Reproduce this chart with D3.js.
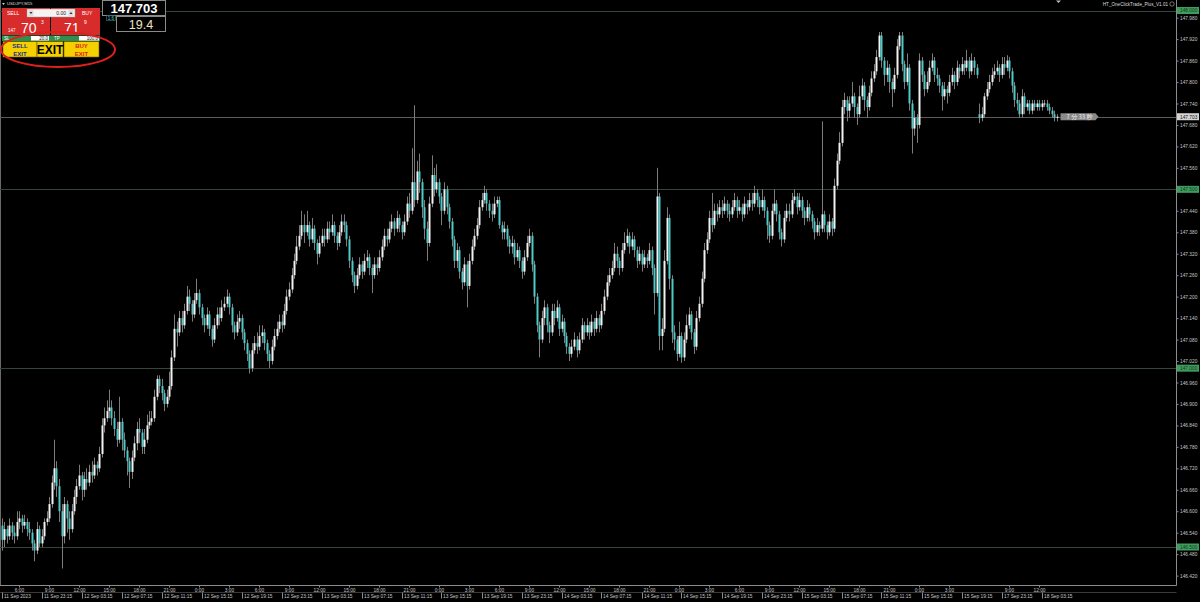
<!DOCTYPE html>
<html>
<head>
<meta charset="utf-8">
<script src="https://cdn.jsdelivr.net/npm/d3@7"></script>
<style>
  body { margin: 0; background: #000; }
  svg { display: block; }
  text { font-family: "Liberation Sans", Arial, sans-serif; }
</style>
</head>
<body>
<svg id="chart" width="1200" height="602"></svg>
<script>
// USDJPY M15, one value per bar (open = previous close unless listed in gapOpens)
var closes = [
  146.52,146.55,146.53,146.56,146.54,146.53,146.57,146.58,146.56,146.57,
  146.55,146.54,146.51,146.49,146.55,146.51,146.53,146.57,146.58,146.62,
  146.68,146.72,146.67,146.60,146.53,146.62,146.58,146.55,146.60,146.64,
  146.67,146.70,146.66,146.69,146.68,146.71,146.70,146.73,146.72,146.76,
  146.84,146.86,146.88,146.89,146.86,146.83,146.80,146.85,146.80,146.77,
  146.74,146.71,146.75,146.79,146.83,146.82,146.78,146.80,146.84,146.85,
  146.86,146.92,146.97,146.95,146.93,146.90,146.92,146.95,147.03,147.11,
  147.10,147.14,147.12,147.16,147.20,147.18,147.15,147.19,147.21,147.17,
  147.14,147.12,147.15,147.11,147.08,147.12,147.15,147.14,147.17,147.18,
  147.20,147.17,147.12,147.10,147.13,147.14,147.10,147.07,147.04,147.00,
  147.05,147.07,147.06,147.09,147.10,147.07,147.04,147.02,147.06,147.09,
  147.11,147.13,147.12,147.16,147.20,147.22,147.26,147.30,147.34,147.37,
  147.40,147.38,147.40,147.36,147.39,147.35,147.32,147.35,147.37,147.36,
  147.39,147.38,147.40,147.37,147.35,147.38,147.41,147.40,147.36,147.30,
  147.26,147.23,147.26,147.29,147.27,147.30,147.31,147.28,147.26,147.29,
  147.28,147.31,147.34,147.37,147.36,147.39,147.41,147.39,147.42,147.40,
  147.38,147.41,147.46,147.44,147.52,147.47,147.55,147.52,147.45,147.39,
  147.35,147.46,147.54,147.50,147.52,147.48,147.44,147.50,147.45,147.41,
  147.36,147.30,147.33,147.27,147.24,147.29,147.23,147.30,147.34,147.37,
  147.40,147.45,147.47,147.49,147.46,147.44,147.43,147.46,147.47,147.40,
  147.38,147.39,147.36,147.34,147.35,147.31,147.33,147.30,147.27,147.31,
  147.35,147.37,147.29,147.20,147.12,147.08,147.14,147.17,147.12,147.10,
  147.16,147.14,147.17,147.11,147.13,147.09,147.06,147.04,147.06,147.08,
  147.05,147.08,147.12,147.10,147.12,147.10,147.13,147.11,147.14,147.12,
  147.16,147.20,147.24,147.26,147.28,147.32,147.30,147.28,147.33,147.35,
  147.37,147.34,147.36,147.33,147.30,147.32,147.29,147.31,147.30,147.33,
  147.28,147.21,147.48,147.09,147.11,147.30,147.42,147.25,147.10,147.08,
  147.04,147.09,147.03,147.08,147.12,147.15,147.10,147.06,147.14,147.18,
  147.25,147.33,147.36,147.42,147.40,147.44,147.43,147.45,147.44,147.46,
  147.44,147.43,147.45,147.47,147.44,147.45,147.43,147.46,147.45,147.47,
  147.46,147.49,147.47,147.45,147.47,147.44,147.40,147.37,147.44,147.46,
  147.43,147.38,147.36,147.42,147.44,147.43,147.47,147.48,147.45,147.47,
  147.44,147.42,147.45,147.43,147.41,147.38,147.40,147.39,147.43,147.40,
  147.38,147.41,147.39,147.51,147.58,147.63,147.73,147.75,147.72,147.74,
  147.76,147.73,147.71,147.76,147.79,147.75,147.73,147.77,147.81,147.83,
  147.87,147.93,147.86,147.82,147.84,147.80,147.78,147.82,147.90,147.93,
  147.85,147.80,147.84,147.74,147.67,147.70,147.68,147.86,147.82,147.78,
  147.80,147.84,147.86,147.82,147.81,147.79,147.76,147.78,147.77,147.80,
  147.82,147.80,147.84,147.83,147.85,147.84,147.86,147.83,147.86,147.84,
  147.82,147.70,147.71,147.76,147.78,147.80,147.82,147.83,147.84,147.82,
  147.85,147.84,147.86,147.83,147.79,147.75,147.74,147.71,147.76,147.73,
  147.74,147.72,147.74,147.73,147.74,147.73,147.74,147.74,147.73,147.72,
  147.71,147.70,147.703
];
var highs = [
  146.58,146.57,146.56,146.58,146.57,146.56,146.60,146.60,146.59,146.59,
  146.58,146.57,146.55,146.52,146.57,146.56,146.55,146.58,146.60,146.64,
  146.70,146.80,146.74,146.69,146.62,146.64,146.63,146.60,146.62,146.66,
  146.69,146.73,146.71,146.71,146.72,146.73,146.74,146.75,146.74,146.78,
  146.86,146.89,146.91,146.94,146.91,146.88,146.85,146.92,146.86,146.82,
  146.78,146.75,146.77,146.81,146.85,146.86,146.83,146.83,146.87,146.88,
  146.88,146.94,146.98,146.98,146.97,146.94,146.94,146.99,147.05,147.15,
  147.13,147.16,147.16,147.18,147.23,147.22,147.19,147.21,147.25,147.22,
  147.18,147.15,147.17,147.16,147.12,147.14,147.17,147.17,147.19,147.20,
  147.22,147.21,147.18,147.13,147.15,147.16,147.15,147.11,147.08,147.05,
  147.07,147.09,147.10,147.12,147.12,147.11,147.08,147.05,147.08,147.11,
  147.13,147.15,147.15,147.18,147.22,147.24,147.28,147.32,147.37,147.40,
  147.44,147.43,147.44,147.41,147.42,147.40,147.36,147.37,147.39,147.39,
  147.41,147.41,147.43,147.41,147.38,147.40,147.43,147.43,147.41,147.37,
  147.31,147.27,147.28,147.31,147.30,147.32,147.33,147.32,147.29,147.31,
  147.31,147.33,147.36,147.39,147.39,147.41,147.43,147.42,147.44,147.43,
  147.41,147.43,147.48,147.49,147.615,147.735,147.58,147.60,147.53,147.47,
  147.41,147.48,147.595,147.56,147.57,147.53,147.49,147.52,147.51,147.46,
  147.42,147.37,147.35,147.34,147.28,147.31,147.30,147.32,147.36,147.39,
  147.42,147.47,147.49,147.51,147.50,147.47,147.46,147.48,147.48,147.48,
  147.41,147.41,147.40,147.37,147.37,147.36,147.35,147.34,147.31,147.33,
  147.37,147.39,147.38,147.30,147.21,147.13,147.16,147.19,147.18,147.13,
  147.18,147.18,147.19,147.18,147.15,147.14,147.10,147.07,147.08,147.10,
  147.09,147.10,147.14,147.13,147.14,147.13,147.15,147.14,147.16,147.15,
  147.18,147.22,147.26,147.28,147.30,147.35,147.34,147.31,147.35,147.38,
  147.39,147.38,147.38,147.37,147.34,147.34,147.33,147.33,147.32,147.35,
  147.34,147.29,147.56,147.49,147.14,147.33,147.45,147.43,147.26,147.12,
  147.09,147.13,147.10,147.10,147.15,147.17,147.16,147.11,147.16,147.20,
  147.27,147.35,147.38,147.44,147.49,147.46,147.46,147.47,147.47,147.48,
  147.47,147.46,147.47,147.49,147.48,147.47,147.46,147.48,147.47,147.49,
  147.49,147.51,147.50,147.48,147.50,147.48,147.45,147.41,147.46,147.50,
  147.47,147.44,147.39,147.44,147.46,147.46,147.49,147.50,147.49,147.49,
  147.48,147.45,147.47,147.46,147.44,147.42,147.42,147.41,147.69,147.44,
  147.41,147.43,147.42,147.53,147.60,147.66,147.75,147.77,147.76,147.76,
  147.80,147.77,147.74,147.79,147.81,147.80,147.76,147.79,147.83,147.85,
  147.89,147.94,147.94,147.87,147.86,147.85,147.81,147.84,147.92,147.94,
  147.94,147.86,147.88,147.85,147.75,147.72,147.71,147.88,147.87,147.83,
  147.83,147.86,147.88,147.87,147.84,147.82,147.80,147.80,147.79,147.82,
  147.84,147.83,147.86,147.85,147.87,147.86,147.89,147.87,147.88,147.87,
  147.85,147.74,147.73,147.77,147.80,147.82,147.84,147.85,147.86,147.85,
  147.87,147.87,147.875,147.87,147.84,147.80,147.77,147.75,147.78,147.77,
  147.75,147.75,147.75,147.75,147.75,147.75,147.75,147.75,147.75,147.74,
  147.73,147.72,147.71
];
var lows = [
  146.49,146.50,146.51,146.52,146.52,146.51,146.52,146.55,146.54,146.55,
  146.53,146.52,146.49,146.46,146.48,146.50,146.50,146.52,146.56,146.57,
  146.61,146.66,146.64,146.57,146.44,146.51,146.54,146.52,146.54,146.59,
  146.62,146.66,146.63,146.64,146.66,146.67,146.68,146.69,146.70,146.71,
  146.75,146.82,146.85,146.86,146.84,146.81,146.78,146.79,146.77,146.75,
  146.70,146.665,146.69,146.74,146.77,146.79,146.76,146.76,146.79,146.83,
  146.84,146.85,146.91,146.93,146.91,146.88,146.89,146.91,146.94,147.02,
  147.06,147.09,147.10,147.11,147.15,147.16,147.13,147.14,147.18,147.15,
  147.12,147.10,147.11,147.09,147.06,147.07,147.11,147.12,147.13,147.16,
  147.17,147.15,147.10,147.08,147.09,147.11,147.08,147.05,147.02,146.985,
  146.99,147.04,147.04,147.05,147.07,147.05,147.02,147.00,147.01,147.05,
  147.08,147.10,147.10,147.11,147.15,147.19,147.21,147.25,147.29,147.33,
  147.36,147.35,147.37,147.34,147.35,147.33,147.29,147.31,147.34,147.34,
  147.35,147.36,147.37,147.35,147.33,147.34,147.37,147.38,147.34,147.28,
  147.24,147.21,147.22,147.25,147.25,147.26,147.28,147.26,147.21,147.25,
  147.26,147.27,147.30,147.33,147.34,147.35,147.38,147.37,147.38,147.38,
  147.36,147.37,147.40,147.42,147.43,147.45,147.46,147.49,147.42,147.36,
  147.30,147.34,147.45,147.48,147.49,147.46,147.40,147.43,147.43,147.39,
  147.34,147.28,147.28,147.25,147.22,147.23,147.17,147.22,147.29,147.33,
  147.36,147.39,147.44,147.46,147.44,147.42,147.41,147.42,147.45,147.39,
  147.36,147.36,147.34,147.32,147.32,147.29,147.30,147.28,147.25,147.26,
  147.30,147.34,147.27,147.18,147.10,147.03,147.07,147.12,147.10,147.07,
  147.09,147.12,147.13,147.09,147.10,147.07,147.04,147.02,147.03,147.05,
  147.03,147.04,147.07,147.08,147.09,147.08,147.09,147.09,147.10,147.10,
  147.11,147.15,147.19,147.23,147.25,147.27,147.28,147.26,147.27,147.32,
  147.34,147.32,147.33,147.31,147.28,147.29,147.27,147.28,147.28,147.29,
  147.26,147.15,147.20,147.05,147.05,147.10,147.29,147.22,147.07,147.05,
  147.02,147.03,147.015,147.02,147.07,147.11,147.08,147.04,147.05,147.13,
  147.17,147.24,147.32,147.35,147.38,147.39,147.41,147.42,147.42,147.43,
  147.42,147.41,147.42,147.44,147.42,147.43,147.41,147.42,147.43,147.44,
  147.44,147.45,147.45,147.43,147.44,147.42,147.36,147.35,147.36,147.43,
  147.41,147.36,147.34,147.35,147.41,147.41,147.42,147.46,147.43,147.44,
  147.42,147.40,147.41,147.41,147.39,147.36,147.37,147.37,147.38,147.38,
  147.36,147.37,147.37,147.38,147.50,147.57,147.62,147.71,147.69,147.70,
  147.73,147.70,147.68,147.70,147.75,147.72,147.70,147.72,147.76,147.80,
  147.82,147.86,147.84,147.79,147.80,147.77,147.73,147.77,147.81,147.89,
  147.83,147.78,147.79,147.72,147.60,147.65,147.63,147.67,147.80,147.76,
  147.77,147.79,147.83,147.80,147.79,147.77,147.72,147.75,147.74,147.76,
  147.79,147.78,147.79,147.81,147.82,147.82,147.83,147.81,147.82,147.82,
  147.81,147.685,147.69,147.70,147.75,147.77,147.79,147.81,147.82,147.80,
  147.81,147.82,147.83,147.81,147.77,147.73,147.72,147.70,147.70,147.71,
  147.72,147.71,147.71,147.72,147.72,147.72,147.72,147.73,147.72,147.71,
  147.70,147.69,147.69
];
var gapOpens = { 0: 146.56, 391: 147.71 };

var priceTicks = [147.98,147.92,147.86,147.80,147.74,147.68,147.62,147.56,147.44,147.38,
  147.32,147.26,147.20,147.14,147.08,147.02,146.96,146.90,146.84,146.78,146.72,146.66,
  146.60,146.54,146.48,146.42];
var levelLines = [148.0, 147.5, 147.0, 146.5];
var lastPrice = 147.703;

var timeTicks = [7,19,31,43,55,67,79,91,103,115,127,139,151,163,175,187,199,211,223,235,
  247,259,271,283,295,307,319,331,343,355,367,379,403,415];
var timeLabels = ["6:00","9:00","12:00","15:00","18:00","21:00","0:00","3:00","6:00","9:00",
  "12:00","15:00","18:00","21:00","0:00","3:00","6:00","9:00","12:00","15:00","18:00","21:00",
  "0:00","3:00","6:00","9:00","12:00","15:00","18:00","21:00","0:00","3:00","9:00","12:00"];
var dateTicks = [0,16,32,48,64,80,96,112,128,144,160,176,192,208,224,240,256,272,288,304,
  320,336,352,368,384,400,416];
var dateLabels = ["11 Sep 2023","11 Sep 23:15","12 Sep 03:15","12 Sep 07:15","12 Sep 11:15",
  "12 Sep 15:15","12 Sep 19:15","12 Sep 23:15","13 Sep 03:15","13 Sep 07:15","13 Sep 11:15",
  "13 Sep 15:15","13 Sep 19:15","13 Sep 23:15","14 Sep 03:15","14 Sep 07:15","14 Sep 11:15",
  "14 Sep 15:15","14 Sep 19:15","14 Sep 23:15","15 Sep 03:15","15 Sep 07:15","15 Sep 11:15",
  "15 Sep 15:15","15 Sep 19:15","17 Sep 23:15","18 Sep 03:15"];

var W = 1200, H = 602, axisX = 1176.5, axisY = 585.5;
var bull = "#f2f2f2", bear = "#4ecaca", wick = "#7c7c7c";

var svg = d3.select("#chart");
svg.append("rect").attr("width", W).attr("height", H).attr("fill", "#000");

var x = d3.scaleLinear().domain([0, 470]).range([1.5, 1176.5]);
var y = d3.scaleLinear().domain([146.5, 148.0]).range([547, 10.5]);

var bars = closes.map(function(c, i) {
  var o = gapOpens[i] !== undefined ? gapOpens[i] : closes[i - 1];
  return { i: i, o: o, h: highs[i], l: lows[i], c: c };
});

// frame
svg.append("line").attr("x1", 0.5).attr("x2", 0.5).attr("y1", 0).attr("y2", axisY).attr("stroke", "#6a6a6a");

// round level lines + current price line
svg.selectAll("line.level").data(levelLines).enter().append("line").attr("class", "level")
  .attr("x1", 0).attr("x2", axisX).attr("y1", function(d) { return Math.round(y(d)) + 0.5; })
  .attr("y2", function(d) { return Math.round(y(d)) + 0.5; })
  .attr("stroke", "#34463c").attr("stroke-width", 1);
svg.append("line").attr("x1", 0).attr("x2", axisX)
  .attr("y1", Math.round(y(lastPrice)) + 0.5).attr("y2", Math.round(y(lastPrice)) + 0.5)
  .attr("stroke", "#5c5c5c");

// candles
var cg = svg.append("g");
cg.selectAll("line.wick").data(bars).enter().append("line").attr("class", "wick")
  .attr("x1", function(d) { return Math.round(x(d.i)) + 0.5; })
  .attr("x2", function(d) { return Math.round(x(d.i)) + 0.5; })
  .attr("y1", function(d) { return y(d.h); }).attr("y2", function(d) { return y(d.l); })
  .attr("stroke", wick).attr("stroke-width", 1);
cg.selectAll("rect.body").data(bars).enter().append("rect").attr("class", "body")
  .attr("x", function(d) { return Math.round(x(d.i)) - 0.5; })
  .attr("width", 2)
  .attr("y", function(d) { return y(Math.max(d.o, d.c)); })
  .attr("height", function(d) { return Math.max(1, Math.abs(y(d.o) - y(d.c))); })
  .attr("fill", function(d) { return d.c >= d.o ? bull : bear; });

// right price axis
var ya = svg.append("g").attr("transform", "translate(" + axisX + ",0)")
  .call(d3.axisRight(y).tickValues(priceTicks).tickSize(2).tickPadding(1.5).tickFormat(d3.format(".3f")));
ya.select(".domain").attr("stroke", "#8c8c8c").attr("d", "M0,0V" + axisY);
ya.selectAll(".tick line").attr("stroke", "#8c8c8c");
ya.selectAll(".tick text").attr("fill", "#c8c8c8").style("font-size", "4.8px");

var tags = svg.selectAll("g.tag").data(levelLines).enter().append("g").attr("class", "tag")
  .attr("transform", function(d) { return "translate(" + (axisX + 0.5) + "," + y(d) + ")"; });
tags.append("rect").attr("x", 0).attr("y", -3.5).attr("width", 22).attr("height", 7).attr("fill", "#3d9d5d");
tags.append("text").attr("x", 3).attr("y", 1.8).attr("fill", "#17361f").style("font-size", "4.8px")
  .text(function(d) { return d3.format(".3f")(d); });
var lp = svg.append("g").attr("transform", "translate(" + (axisX + 0.5) + "," + y(lastPrice) + ")");
lp.append("rect").attr("x", 0).attr("y", -3.5).attr("width", 22).attr("height", 7).attr("fill", "#d4d4d4");
lp.append("text").attr("x", 3).attr("y", 1.8).attr("fill", "#111").style("font-size", "4.8px").text(d3.format(".3f")(lastPrice));

// bottom time axis (two rows)
svg.append("line").attr("x1", 0).attr("x2", axisX).attr("y1", axisY).attr("y2", axisY).attr("stroke", "#8c8c8c");
var ta = svg.append("g").attr("transform", "translate(0," + axisY + ")")
  .call(d3.axisBottom(x).tickValues(timeTicks).tickSize(2).tickPadding(1)
    .tickFormat(function(d, i) { return timeLabels[i]; }));
ta.select(".domain").remove();
ta.selectAll(".tick line").attr("stroke", "#8c8c8c");
ta.selectAll(".tick text").attr("fill", "#c8c8c8").style("font-size", "4.8px");

svg.append("line").attr("x1", 0).attr("x2", axisX).attr("y1", 592.5).attr("y2", 592.5).attr("stroke", "#3a3a3a");
var da = svg.append("g").attr("transform", "translate(0,592.5)");
var dt = da.selectAll("g").data(dateTicks).enter().append("g")
  .attr("transform", function(d) { return "translate(" + (Math.round(x(d)) + 0.5) + ",0)"; });
dt.append("line").attr("y1", 0).attr("y2", 6).attr("stroke", "#8c8c8c");
dt.append("text").attr("x", 1.5).attr("y", 5.8).attr("fill", "#c8c8c8").style("font-size", "4.8px")
  .text(function(d, i) { return dateLabels[i]; });

// countdown tag next to the last bar
var cd = svg.append("g").attr("transform", "translate(" + (x(closes.length - 1) + 4) + "," + y(lastPrice) + ")");
cd.append("path").attr("d", "M0,-3.5H35L38,0L35,3.5H0Z").attr("fill", "#8a8a8a");
cd.append("text").attr("x", 19).attr("y", 2).attr("text-anchor", "middle").attr("fill", "#eee")
  .style("font-family", "'Noto Sans CJK JP', sans-serif").style("font-size", "6px").text("7 分 33 秒");

// top texts
svg.append("path").attr("d", "M2,3L5,3L3.5,5Z").attr("fill", "#ccc");
svg.append("text").attr("x", 7).attr("y", 5).attr("fill", "#ddd").style("font-size", "4.2px").text("USDJPY,M15");
svg.append("text").attr("x", 1168).attr("y", 5.5).attr("text-anchor", "end").attr("fill", "#ddd")
  .style("font-size", "4.6px").text("HT_OneClickTrade_Plus_V1.01");
svg.append("circle").attr("cx", 1172).attr("cy", 4).attr("r", 2.2).attr("fill", "none").attr("stroke", "#bbb").attr("stroke-width", 0.6);
svg.append("path").attr("d", "M1056,0.5L1061,0.5L1058.5,3Z").attr("fill", "#bbb");

// one-click trade panel
var p = svg.append("g");
p.append("rect").attr("x", 2).attr("y", 8).attr("width", 48).attr("height", 27).attr("fill", "#d82b2b");
p.append("rect").attr("x", 51).attr("y", 8).attr("width", 49).attr("height", 27).attr("fill", "#d82b2b");
p.append("text").attr("x", 7).attr("y", 14.5).attr("fill", "#fff").style("font-size", "5px").text("SELL");
p.append("text").attr("x", 82).attr("y", 14.5).attr("fill", "#fff").style("font-size", "5px").text("BUY");
p.append("rect").attr("x", 27).attr("y", 9).attr("width", 48).attr("height", 8).attr("fill", "#f4f4f4").attr("stroke", "#999").attr("stroke-width", 0.5);
p.append("rect").attr("x", 28.5).attr("y", 10).attr("width", 5).attr("height", 6).attr("fill", "#ddd");
p.append("path").attr("d", "M29.5,12L32.5,12L31,14Z").attr("fill", "#333");
p.append("rect").attr("x", 68.5).attr("y", 10).attr("width", 5).attr("height", 6).attr("fill", "#ddd");
p.append("path").attr("d", "M69.5,14L72.5,14L71,12Z").attr("fill", "#333");
p.append("text").attr("x", 66).attr("y", 15).attr("text-anchor", "end").attr("fill", "#222").style("font-size", "5px").text("0.00");
p.append("text").attr("x", 8).attr("y", 32).attr("fill", "#fff").style("font-size", "4.5px").text("147");
p.append("text").attr("x", 21).attr("y", 33).attr("fill", "#fff").style("font-size", "14px").text("70");
p.append("text").attr("x", 41).attr("y", 24).attr("fill", "#fff").style("font-size", "5px").text("3");
p.append("text").attr("x", 64).attr("y", 33).attr("fill", "#fff").style("font-size", "14px").text("71");
p.append("text").attr("x", 84).attr("y", 24).attr("fill", "#fff").style("font-size", "5px").text("9");
p.append("rect").attr("x", 2).attr("y", 35.5).attr("width", 98).attr("height", 5.5).attr("fill", "#2f8f4f");
p.append("text").attr("x", 4).attr("y", 40).attr("fill", "#fff").style("font-size", "4.5px").text("SL");
p.append("rect").attr("x", 31).attr("y", 36).attr("width", 18).attr("height", 4.5).attr("fill", "#fff");
p.append("text").attr("x", 48).attr("y", 40).attr("text-anchor", "end").attr("fill", "#111").style("font-size", "4.5px").text("20.0");
p.append("text").attr("x", 54).attr("y", 40).attr("fill", "#fff").style("font-size", "4.5px").text("TP");
p.append("rect").attr("x", 79).attr("y", 36).attr("width", 20).attr("height", 4.5).attr("fill", "#fff");
p.append("text").attr("x", 98).attr("y", 40).attr("text-anchor", "end").attr("fill", "#111").style("font-size", "4.5px").text("100.0");
var btns = [[3, 34, "#1c2a8c"], [37, 26, "#000"], [64, 35, "#d82020"]];
btns.forEach(function(b) {
  p.append("rect").attr("x", b[0]).attr("y", 41.5).attr("width", b[1]).attr("height", 15.5)
    .attr("fill", "#f5d000").attr("stroke", "#6b5a00").attr("stroke-width", 0.6);
});
p.append("text").attr("x", 20).attr("y", 48).attr("text-anchor", "middle").attr("fill", "#1c2a8c").style("font-size", "6px").style("font-weight", "bold").text("SELL");
p.append("text").attr("x", 20).attr("y", 55.5).attr("text-anchor", "middle").attr("fill", "#1c2a8c").style("font-size", "6px").style("font-weight", "bold").text("EXIT");
p.append("text").attr("x", 50).attr("y", 54).attr("text-anchor", "middle").attr("fill", "#000").style("font-size", "12px").style("font-weight", "bold").text("EXIT");
p.append("text").attr("x", 81.5).attr("y", 48).attr("text-anchor", "middle").attr("fill", "#d82020").style("font-size", "6px").style("font-weight", "bold").text("BUY");
p.append("text").attr("x", 81.5).attr("y", 55.5).attr("text-anchor", "middle").attr("fill", "#d82020").style("font-size", "6px").style("font-weight", "bold").text("EXIT");
svg.append("ellipse").attr("cx", 58).attr("cy", 49.5).attr("rx", 57).attr("ry", 17.5)
  .attr("fill", "none").attr("stroke", "#e0201c").attr("stroke-width", 2);

// price / spread boxes
svg.append("rect").attr("x", 102.5).attr("y", 0.5).attr("width", 63).attr("height", 15).attr("fill", "#000").attr("stroke", "#8a8a8a");
svg.append("text").attr("x", 134).attr("y", 12.5).attr("text-anchor", "middle").attr("fill", "#fff")
  .style("font-size", "13px").style("font-weight", "bold").text(d3.format(".3f")(lastPrice));
svg.append("rect").attr("x", 116.5).attr("y", 16.5).attr("width", 49).attr("height", 15).attr("fill", "#000").attr("stroke", "#8a8a8a");
svg.append("text").attr("x", 141).attr("y", 28.5).attr("text-anchor", "middle").attr("fill", "#efe3c2")
  .style("font-size", "12.5px").text("19.4");
svg.append("rect").attr("x", 106.5).attr("y", 15.5).attr("width", 9).attr("height", 5).attr("fill", "#000").attr("stroke", "#3aa0a0").attr("stroke-width", 0.5);
svg.append("text").attr("x", 111).attr("y", 19.5).attr("text-anchor", "middle").attr("fill", "#5fd0d0").style("font-size", "4.5px").text("1.6");
</script>
</body>
</html>
